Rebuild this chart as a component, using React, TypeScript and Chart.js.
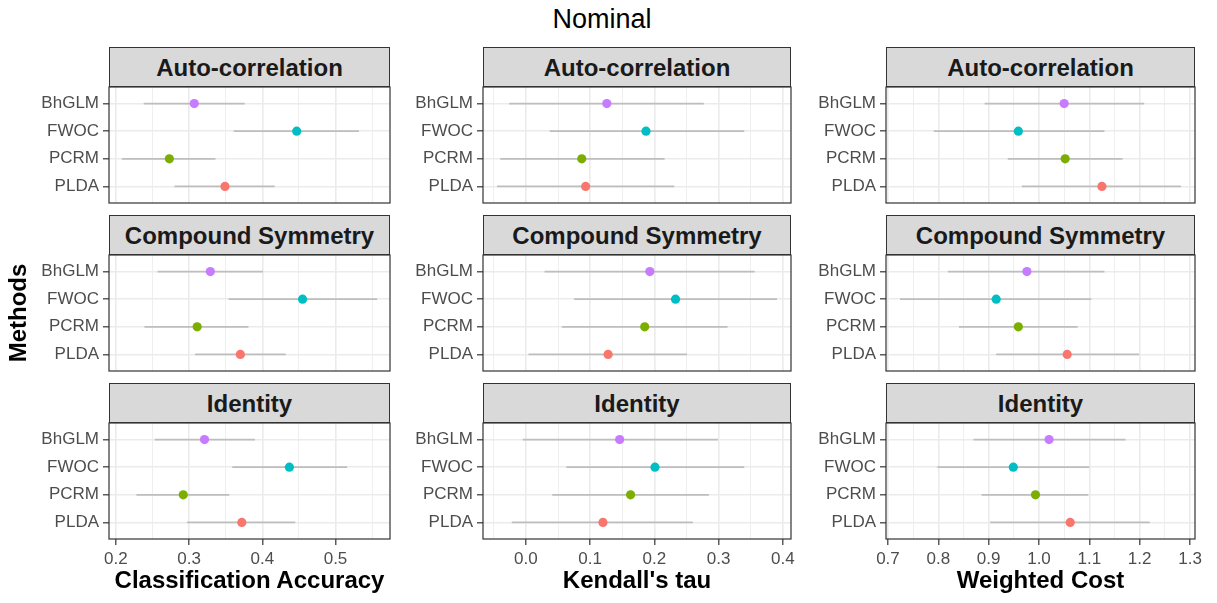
import React, { useEffect, useRef } from 'react';
import { Chart, registerables } from 'chart.js';

Chart.register(...registerables);

// ---------- data ----------
const methods = ['BhGLM', 'FWOC', 'PCRM', 'PLDA'];
const methodColors = ['#C77CFF', '#00BFC4', '#7CAE00', '#F8766D'];
const structures = ['Auto-correlation', 'Compound Symmetry', 'Identity'];
const metrics = ['Classification Accuracy', "Kendall's tau", 'Weighted Cost'];
const chartTitle = 'Nominal';
const yAxisTitle = 'Methods';

// Classification accuracy
const accAutoMean = [0.307, 0.447, 0.273, 0.349];
const accAutoLow = [0.238, 0.361, 0.208, 0.280];
const accAutoHigh = [0.376, 0.532, 0.336, 0.417];
const accCsMean = [0.329, 0.455, 0.311, 0.370];
const accCsLow = [0.257, 0.354, 0.239, 0.308];
const accCsHigh = [0.401, 0.557, 0.381, 0.432];
const accIdMean = [0.321, 0.437, 0.292, 0.372];
const accIdLow = [0.253, 0.359, 0.228, 0.297];
const accIdHigh = [0.390, 0.516, 0.355, 0.445];

// Kendall's tau
const tauAutoMean = [0.126, 0.187, 0.087, 0.093];
const tauAutoLow = [-0.026, 0.037, -0.040, -0.045];
const tauAutoHigh = [0.277, 0.340, 0.216, 0.231];
const tauCsMean = [0.193, 0.233, 0.185, 0.128];
const tauCsLow = [0.029, 0.075, 0.056, 0.004];
const tauCsHigh = [0.356, 0.391, 0.314, 0.251];
const tauIdMean = [0.146, 0.201, 0.163, 0.120];
const tauIdLow = [-0.005, 0.063, 0.041, -0.022];
const tauIdHigh = [0.299, 0.340, 0.285, 0.260];

// Weighted cost
const costAutoMean = [1.050, 0.959, 1.052, 1.125];
const costAutoLow = [0.892, 0.791, 0.938, 0.966];
const costAutoHigh = [1.209, 1.130, 1.166, 1.282];
const costCsMean = [0.976, 0.915, 0.959, 1.056];
const costCsLow = [0.819, 0.724, 0.841, 0.915];
const costCsHigh = [1.130, 1.104, 1.077, 1.199];
const costIdMean = [1.020, 0.949, 0.993, 1.062];
const costIdLow = [0.870, 0.798, 0.886, 0.903];
const costIdHigh = [1.172, 1.100, 1.098, 1.220];

// tick labels
const accTicks = [0.2, 0.3, 0.4, 0.5];
const accTickLabels = ['0.2', '0.3', '0.4', '0.5'];
const tauTicks = [0.0, 0.1, 0.2, 0.3, 0.4];
const tauTickLabels = ['0.0', '0.1', '0.2', '0.3', '0.4'];
const costTicks = [0.7, 0.8, 0.9, 1.0, 1.1, 1.2, 1.3];
const costTickLabels = ['0.7', '0.8', '0.9', '1.0', '1.1', '1.2', '1.3'];

type Series = { mean: number[]; low: number[]; high: number[] };
const panels: Series[][] = [
  [
    { mean: accAutoMean, low: accAutoLow, high: accAutoHigh },
    { mean: accCsMean, low: accCsLow, high: accCsHigh },
    { mean: accIdMean, low: accIdLow, high: accIdHigh },
  ],
  [
    { mean: tauAutoMean, low: tauAutoLow, high: tauAutoHigh },
    { mean: tauCsMean, low: tauCsLow, high: tauCsHigh },
    { mean: tauIdMean, low: tauIdLow, high: tauIdHigh },
  ],
  [
    { mean: costAutoMean, low: costAutoLow, high: costAutoHigh },
    { mean: costCsMean, low: costCsLow, high: costCsHigh },
    { mean: costIdMean, low: costIdLow, high: costIdHigh },
  ],
];
const tickSets = [
  { ticks: accTicks, labels: accTickLabels },
  { ticks: tauTicks, labels: tauTickLabels },
  { ticks: costTicks, labels: costTickLabels },
];

// ---------- layout ----------
const FONT = "'Liberation Sans', Arial, Helvetica, sans-serif";
const COLS = [
  { left: 109, width: 281 },
  { left: 483, width: 308 },
  { left: 886, width: 309 },
];
const ROW_TOPS = [87, 255, 423];
const PLOT_H = 116;
const STRIP_H = 40;
const Y_AXIS_W = 100;
const PAD = 15;
const PAD_R = 24;
const X_AXIS_H = 30;

function columnRange(col: number) {
  let lo = Infinity;
  let hi = -Infinity;
  panels[col].forEach((s) => {
    s.low.forEach((v) => (lo = Math.min(lo, v)));
    s.high.forEach((v) => (hi = Math.max(hi, v)));
  });
  const e = (hi - lo) * 0.05;
  return { min: lo - e, max: hi + e };
}

const panelBorder = {
  id: 'panelBorder',
  afterDraw(chart: any) {
    const { ctx, chartArea: a } = chart;
    ctx.save();
    ctx.strokeStyle = '#333333';
    ctx.lineWidth = 1.2;
    ctx.strokeRect(a.left, a.top, a.right - a.left, a.bottom - a.top);
    ctx.restore();
  },
};

function Panel({ col, row }: { col: number; row: number }) {
  const ref = useRef<HTMLCanvasElement>(null);
  const isBottom = row === structures.length - 1;
  const c = COLS[col];
  const w = Y_AXIS_W + c.width + PAD_R;
  const h = PAD + PLOT_H + (isBottom ? X_AXIS_H + 10 : PAD);

  useEffect(() => {
    if (!ref.current) return;
    const s = panels[col][row];
    const ts = tickSets[col];
    const { min, max } = columnRange(col);
    const step = ts.ticks[1] - ts.ticks[0];
    const minors: number[] = [];
    ts.ticks.forEach((t, i) => {
      if (i === 0 && t - step / 2 >= min) minors.push(t - step / 2);
      if (t + step / 2 <= max) minors.push(t + step / 2);
    });
    const allTicks = [...ts.ticks, ...minors].sort((a, b) => a - b);
    const isMajor = (v: number) => ts.ticks.some((t) => Math.abs(t - v) < 1e-9);
    const labelOf = (v: number) => {
      const k = ts.ticks.findIndex((t) => Math.abs(t - v) < 1e-9);
      return k >= 0 ? ts.labels[k] : '';
    };

    const dotSets = methods.map((m, i) => ({
      type: 'scatter' as const,
      label: m,
      data: [{ x: s.mean[i], y: i + 1 }],
      pointRadius: 4.6,
      pointHoverRadius: 4.6,
      pointBackgroundColor: methodColors[i],
      pointBorderColor: methodColors[i],
      pointBorderWidth: 0,
    }));
    const barSets = methods.map((m, i) => ({
      type: 'line' as const,
      label: m + ' interval',
      data: [
        { x: s.low[i], y: i + 1 },
        { x: s.high[i], y: i + 1 },
      ],
      borderColor: '#BEBEBE',
      borderWidth: 1.8,
      pointRadius: 0,
      pointHoverRadius: 0,
      fill: false,
    }));

    const chart = new Chart(ref.current, {
      type: 'scatter',
      data: { datasets: [...dotSets, ...barSets] as any },
      options: {
        animation: false,
        responsive: false,
        devicePixelRatio: 1,
        events: [],
        layout: {
          padding: { left: 0, right: PAD_R, top: PAD, bottom: isBottom ? 10 : PAD },
        },
        plugins: { legend: { display: false }, tooltip: { enabled: false } },
        scales: {
          x: {
            type: 'linear',
            min,
            max,
            afterBuildTicks: (scale: any) => {
              scale.ticks = allTicks.map((v) => ({ value: v }));
            },
            afterFit: (scale: any) => {
              scale.height = isBottom ? X_AXIS_H : 0;
            },
            border: { display: false },
            grid: {
              color: '#EBEBEB',
              lineWidth: (ctx: any) => (ctx.tick && isMajor(ctx.tick.value) ? 1.6 : 0.8),
              drawTicks: isBottom,
              tickLength: 6,
              tickWidth: 1.2,
              tickColor: (ctx: any) =>
                ctx.tick && isMajor(ctx.tick.value) ? '#333333' : 'rgba(0,0,0,0)',
            },
            ticks: {
              display: isBottom,
              autoSkip: false,
              maxRotation: 0,
              padding: 4,
              color: '#4D4D4D',
              font: { size: 17, family: FONT },
              callback: (v: any) => labelOf(Number(v)),
            },
          },
          y: {
            type: 'linear',
            reverse: true,
            min: 0.4,
            max: methods.length + 0.6,
            afterBuildTicks: (scale: any) => {
              scale.ticks = methods.map((_, i) => ({ value: i + 1 }));
            },
            afterFit: (scale: any) => {
              scale.width = Y_AXIS_W;
            },
            border: { display: false },
            grid: {
              color: '#EBEBEB',
              lineWidth: 1.6,
              drawTicks: true,
              tickLength: 6,
              tickWidth: 1.2,
              tickColor: '#333333',
            },
            ticks: {
              autoSkip: false,
              padding: 4,
              color: '#4D4D4D',
              font: { size: 17, family: FONT },
              callback: (v: any) => methods[Math.round(Number(v)) - 1] ?? '',
            },
          },
        },
      },
      plugins: [panelBorder],
    } as any);
    return () => chart.destroy();
  }, [col, row]);

  return (
    <canvas
      ref={ref}
      width={w}
      height={h}
      style={{
        position: 'absolute',
        left: c.left - Y_AXIS_W,
        top: ROW_TOPS[row] - PAD,
        width: w,
        height: h,
      }}
    />
  );
}

export default function App() {
  const cells: React.ReactNode[] = [];
  COLS.forEach((_, col) =>
    structures.forEach((_, row) => cells.push(<Panel key={`p${col}-${row}`} col={col} row={row} />))
  );
  const strips: React.ReactNode[] = [];
  COLS.forEach((c, col) =>
    structures.forEach((name, row) =>
      strips.push(
        <div
          key={`s${col}-${row}`}
          style={{
            position: 'absolute',
            left: c.left,
            top: ROW_TOPS[row] - STRIP_H,
            width: c.width,
            height: STRIP_H,
            boxSizing: 'border-box',
            border: '1.2px solid #333333',
            background: '#D9D9D9',
            color: '#1A1A1A',
            fontWeight: 'bold',
            fontSize: 24,
            display: 'flex',
            alignItems: 'center',
            justifyContent: 'center',
            paddingTop: 2,
          }}
        >
          {name}
        </div>
      )
    )
  );

  return (
    <div
      style={{
        position: 'absolute',
        left: 0,
        top: 0,
        width: 1217,
        height: 603,
        background: '#FFFFFF',
        fontFamily: FONT,
        overflow: 'hidden',
      }}
    >
      <div
        style={{
          position: 'absolute',
          left: 0,
          width: 1204,
          top: 4,
          textAlign: 'center',
          fontSize: 27,
          color: '#000000',
        }}
      >
        {chartTitle}
      </div>
      {cells}
      {strips}
      {metrics.map((m, col) => (
        <div
          key={m}
          style={{
            position: 'absolute',
            left: COLS[col].left - 100,
            width: COLS[col].width + 200,
            top: 566,
            textAlign: 'center',
            fontSize: 24,
            fontWeight: 'bold',
            color: '#000000',
          }}
        >
          {m}
        </div>
      ))}
      <div
        style={{
          position: 'absolute',
          left: 18 - 60,
          top: 313 - 15,
          width: 120,
          height: 30,
          lineHeight: '30px',
          textAlign: 'center',
          transform: 'rotate(-90deg)',
          fontSize: 24,
          fontWeight: 'bold',
          color: '#000000',
        }}
      >
        {yAxisTitle}
      </div>
    </div>
  );
}
